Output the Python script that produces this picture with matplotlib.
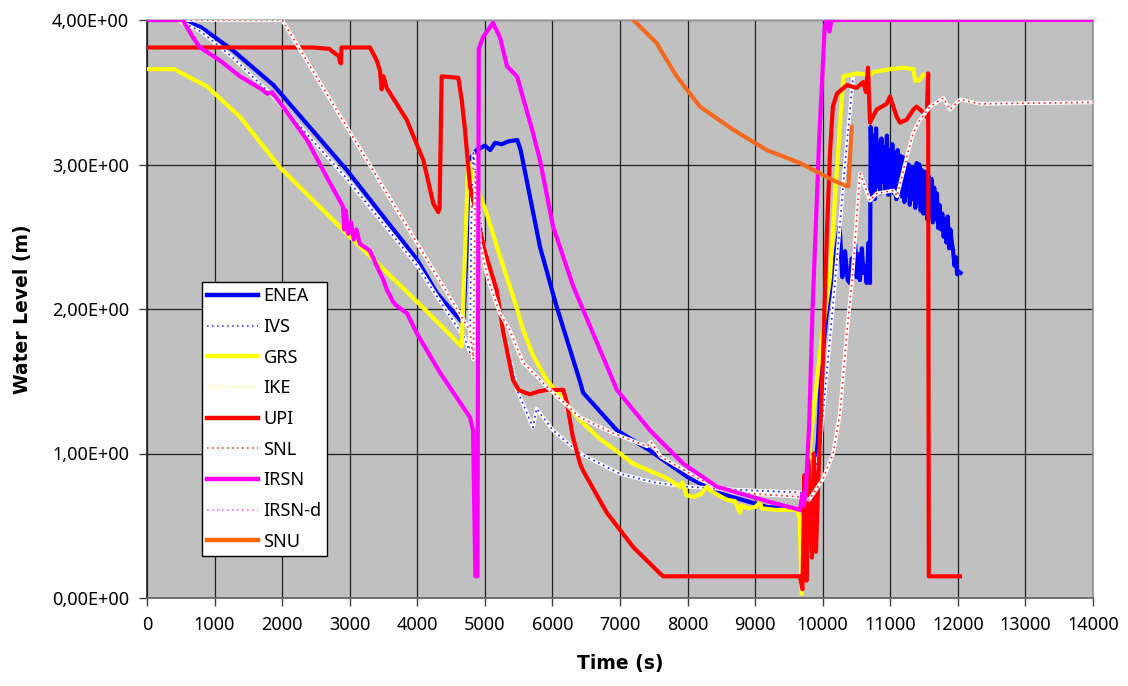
import matplotlib
matplotlib.use("Agg")
import matplotlib.pyplot as plt
from matplotlib.lines import Line2D
from matplotlib.ticker import FuncFormatter

plt.rcParams['font.family'] = ['Noto Sans', 'DejaVu Sans']

# ---- water level time histories (time in s, level in m) ----
enea_t = [0, 500, 800, 1270, 1870, 2960, 4000, 4290, 4680, 4720, 4760, 4800, 4880, 5000,
          5080, 5150, 5250, 5350, 5480, 5530, 5816, 6060, 6400, 6455, 6955, 7444, 7990,
          8436, 9175, 9700, 9850, 9930, 9960, 10010, 10060, 10200, 10250, 10290, 10330,
          10370, 10400, 10430, 10450, 10480, 10500, 10530, 10550, 10580, 10600, 10630,
          10650, 10680, 10700,
          10710, 10730, 10750, 10770, 10790, 10810, 10830, 10850, 10870, 10890, 10910,
          10930, 10950, 10970, 10990, 11010, 11030, 11050, 11070, 11090, 11110, 11130,
          11150, 11170, 11190, 11210, 11230, 11250, 11270, 11290, 11310, 11330, 11350,
          11370, 11390, 11410, 11430, 11450, 11470, 11490, 11510, 11530, 11550, 11570,
          11590, 11610, 11630, 11650, 11670, 11690, 11710, 11730, 11750, 11770, 11790,
          11810, 11830, 11850, 11870, 11890, 11910, 11930, 11950, 11970, 11990, 12010,
          12040]
enea_h = [4.00, 4.00, 3.95, 3.79, 3.55, 2.96, 2.34, 2.11, 1.90, 2.30, 2.90, 3.05, 3.10, 3.13,
          3.10, 3.15, 3.14, 3.16, 3.17, 3.10, 2.43, 2.02, 1.51, 1.42, 1.16, 1.02, 0.84,
          0.73, 0.63, 0.61, 0.66, 1.10, 1.40, 1.74, 1.97, 2.41, 2.57, 2.22, 2.40,
          2.20, 2.18, 2.35, 2.25, 2.45, 2.22, 2.38, 2.20, 2.42, 2.25, 2.30,
          2.18, 2.46, 2.18,
          3.26, 2.78, 3.20, 2.76, 3.25, 2.85, 3.15, 2.80, 3.18, 2.88, 3.12,
          2.82, 3.20, 2.79, 3.10, 2.84, 3.14, 2.80, 3.08, 2.76, 3.10, 2.82,
          3.06, 2.78, 3.05, 2.74, 3.02, 2.79, 3.00, 2.72, 2.98, 2.76, 2.98,
          2.70, 3.01, 2.74, 3.00, 2.68, 2.96, 2.66, 2.95, 2.70, 2.62, 2.92,
          2.64, 2.90, 2.60, 2.84, 2.62, 2.80, 2.56, 2.72, 2.55, 2.66, 2.50,
          2.62, 2.46, 2.64, 2.42, 2.55, 2.46, 2.40, 2.30, 2.36, 2.24, 2.26,
          2.25]

ivs_t = [0, 450, 800, 1270, 1870, 2960, 4000, 4300, 4700, 4780, 4800, 4830, 4930, 4970,
         5180, 5350, 5476, 5712, 5765, 6010, 6408, 7000, 7500, 8000, 8680, 9664, 9800,
         9950, 10155, 10330, 10450]
ivs_h = [4.00, 4.00, 3.92, 3.74, 3.47, 2.90, 2.30, 2.08, 1.80, 1.70, 2.60, 3.08, 2.66, 2.48,
         2.08, 1.70, 1.44, 1.18, 1.31, 1.16, 1.00, 0.86, 0.80, 0.77, 0.75, 0.73, 0.73,
         1.00, 2.04, 3.00, 3.61]

grs_t = [0, 400, 888, 1376, 1968, 2960, 4085, 4657, 4700, 4755, 4800, 5027, 5200, 5471,
         5570, 5712, 5915, 6215, 6408, 6705, 7000, 7193, 7691, 7888, 7920, 7987, 8100,
         8200, 8283, 8350, 8500, 8579, 8700, 8776, 8800, 8900, 9000, 9072, 9100, 9300,
         9615, 9660, 9689, 9730, 9800, 9880, 10000, 10108, 10200, 10305, 10500, 10700,
         10750, 11000, 11193, 11341, 11370, 11420, 11490]
grs_h = [3.66, 3.66, 3.54, 3.33, 2.98, 2.52, 2.01, 1.74, 2.30, 3.02, 2.95, 2.66, 2.40, 2.01,
         1.85, 1.68, 1.51, 1.34, 1.23, 1.10, 1.00, 0.93, 0.83, 0.77, 0.80, 0.71, 0.70,
         0.72, 0.77, 0.74, 0.70, 0.68, 0.67, 0.59, 0.64, 0.62, 0.63, 0.66, 0.62, 0.61,
         0.61, 0.55, 0.03, 0.45, 1.00, 1.37, 1.85, 2.22, 2.90, 3.61, 3.63, 3.62,
         3.64, 3.66, 3.67, 3.66, 3.58, 3.58, 3.62]

upi_t = [0, 2460, 2700, 2750, 2840, 2856, 2870, 2880, 3300, 3400, 3448, 3473, 3500, 3547,
         3843, 4090, 4237, 4311, 4330, 4361, 4607, 4657, 4706, 4780, 4928, 5000, 5175,
         5270, 5416, 5500, 5600, 5668, 5800, 5920, 6160, 6215, 6300, 6408, 6455, 6805,
         7200, 7592, 7640, 9664, 9700, 9730, 9760, 9790, 9840, 9870, 9900, 9930, 10000,
         10060, 10110, 10150, 10210, 10360, 10500, 10600, 10640, 10670, 10700, 10799,
         10947, 10996, 11045, 11095, 11144, 11243, 11341, 11390, 11490, 11540, 11560,
         11570, 12030]
upi_h = [3.81, 3.81, 3.80, 3.78, 3.75, 3.71, 3.70, 3.81, 3.81, 3.72, 3.65, 3.52, 3.61, 3.53,
         3.31, 3.03, 2.73, 2.67, 2.70, 3.61, 3.60, 3.45, 3.24, 2.85, 2.55, 2.40, 2.13,
         1.85, 1.51, 1.44, 1.42, 1.41, 1.43, 1.44, 1.44, 1.35, 1.12, 0.93, 0.88, 0.59,
         0.35, 0.17, 0.15, 0.15, 0.06, 0.85, 0.12, 0.95, 0.28, 1.00, 0.32, 0.75, 1.60,
         2.50, 3.10, 3.40, 3.49, 3.55, 3.53, 3.57, 3.50, 3.67, 3.29, 3.38,
         3.42, 3.47, 3.40, 3.33, 3.29, 3.31, 3.38, 3.40, 3.36, 3.33, 3.63,
         0.15, 0.15]

snl_t = [0, 2000, 4780, 4830, 4860, 4930, 5050, 5224, 5372, 5565, 5920, 6408, 6900, 7400,
         7460, 7600, 8185, 8680, 9664, 9800, 9900, 10000, 10155, 10256, 10360, 10435,
         10552, 10700, 10799, 11045, 11100, 11243, 11341, 11440, 11588, 11785, 11884,
         12032, 12328, 14000]
snl_h = [4.00, 4.00, 1.85, 1.65, 2.95, 2.45, 2.20, 1.97, 1.85, 1.63, 1.46, 1.25, 1.14, 1.05,
         1.08, 0.98, 0.82, 0.73, 0.70, 0.68, 0.75, 0.82, 1.00, 1.28, 1.85, 2.20,
         2.94, 2.75, 2.80, 2.82, 2.78, 3.05, 3.22, 3.31, 3.40, 3.46, 3.38,
         3.45, 3.42, 3.43]

irsn_t = [0, 530, 680, 785, 1080, 1376, 1628, 1700, 1780, 1850, 2013, 2368, 2664, 2900,
          2920, 2940, 2980, 3020, 3060, 3100, 3150, 3250, 3300, 3448, 3500, 3552, 3600,
          3640, 3700, 3848, 3996, 4336, 4780, 4825, 4860, 4890, 4910, 4973, 5120, 5224,
          5328, 5476, 5712, 5816, 6010, 6305, 6955, 7444, 7935, 8436, 9175, 9664, 9700,
          9720, 9750, 9800, 9850, 9950, 10030, 10060, 10100, 10130, 14000]
irsn_h = [4.00, 4.00, 3.88, 3.81, 3.72, 3.61, 3.54, 3.52, 3.49, 3.50, 3.40, 3.17, 2.91, 2.71,
          2.55, 2.68, 2.52, 2.60, 2.48, 2.55, 2.45, 2.42, 2.40, 2.25, 2.20, 2.13, 2.09,
          2.05, 2.02, 1.97, 1.83, 1.56, 1.25, 1.16, 0.15, 0.15, 3.80, 3.88, 3.98, 3.88,
          3.68, 3.61, 3.22, 3.03, 2.57, 2.16, 1.44, 1.16, 0.93, 0.77, 0.67, 0.61, 0.72,
          0.64, 0.75, 1.20, 2.00, 3.20, 3.95, 4.00, 3.92, 4.00, 4.00]

snu_t = [7197, 7543, 7592, 7839, 8184, 8677, 9171, 9664, 10157, 10355, 10380, 10429]
snu_h = [4.00, 3.84, 3.80, 3.61, 3.40, 3.24, 3.10, 3.01, 2.89, 2.85, 2.85, 3.26]

series_names = ["ENEA", "IVS", "GRS", "IKE", "UPI", "SNL", "IRSN", "IRSN-d", "SNU"]
x_ticks = list(range(0, 14001, 1000))
y_ticks = [0, 1, 2, 3, 4]

fig = plt.figure(figsize=(11.28, 6.86), dpi=100)
ax = fig.add_axes([147 / 1128, 88 / 686, 946 / 1128, 578 / 686])
ax.set_facecolor('#C0C0C0')

solid_lw = 3.0
dot_lw = 1.3
base_lw = 2.7
dots = (0, (1, 2))

ax.plot(enea_t, enea_h, color='#0000FF', lw=solid_lw, zorder=3)
ax.plot(ivs_t, ivs_h, color='white', lw=base_lw, zorder=3.1)
ax.plot(ivs_t, ivs_h, color='#3333FF', lw=dot_lw, ls=dots, zorder=3.2)
ax.plot(grs_t, grs_h, color='#FFFF00', lw=solid_lw, zorder=3.3)
ax.plot(upi_t, upi_h, color='#FF0000', lw=solid_lw, zorder=3.5)
ax.plot(snl_t, snl_h, color='white', lw=base_lw, zorder=3.6)
ax.plot(snl_t, snl_h, color='#FF3333', lw=dot_lw, ls=dots, zorder=3.7)
ax.plot(irsn_t, irsn_h, color='#FF00FF', lw=solid_lw, zorder=3.8)
ax.plot(snu_t, snu_h, color='#F36A1E', lw=solid_lw, zorder=4.0)

ax.set_xlim(0, 14000)
ax.set_ylim(0, 4)
ax.set_xticks(x_ticks)
ax.set_yticks(y_ticks)
ax.yaxis.set_major_formatter(FuncFormatter(lambda v, p: f"{v:.2E}".replace('.', ',')))
ax.tick_params(axis='both', direction='out', length=6, width=1, color='#404040',
               labelsize=13, pad=7)
ax.grid(True, color='#202020', lw=0.9)
ax.set_axisbelow(True)

for side, col in [('left', '#202020'), ('bottom', '#606060'),
                  ('right', '#909090'), ('top', '#B0B0B0')]:
    ax.spines[side].set_color(col)
    ax.spines[side].set_linewidth(1.2)

ax.set_xlabel("Time (s)", fontsize=13.5, fontweight='bold', family='DejaVu Sans',
              labelpad=14)
ax.set_ylabel("Water Level (m)", fontsize=13.5, fontweight='bold', family='DejaVu Sans',
              labelpad=14)

handles = [
    Line2D([], [], color='#0000FF', lw=3.2),
    Line2D([], [], color='#4444FF', lw=1.2, ls=dots),
    Line2D([], [], color='#FFFF00', lw=3.2),
    Line2D([], [], color='#FFFF66', lw=1.2, ls=dots),
    Line2D([], [], color='#FF0000', lw=3.2),
    Line2D([], [], color='#FF4444', lw=1.2, ls=dots),
    Line2D([], [], color='#FF00FF', lw=3.2),
    Line2D([], [], color='#FF66FF', lw=1.2, ls=dots),
    Line2D([], [], color='#FF6600', lw=3.2),
]
leg = ax.legend(handles, series_names, loc='upper left',
                bbox_to_anchor=(55 / 946, (598 - 282) / 578), borderaxespad=0,
                fontsize=13, frameon=True, fancybox=False, framealpha=1,
                edgecolor='black', handlelength=2.8, handletextpad=0.3,
                labelspacing=0.70, borderpad=0.3)
leg.get_frame().set_linewidth(1.0)
leg.set_zorder(10)

fig.savefig("out.png", dpi=100)
